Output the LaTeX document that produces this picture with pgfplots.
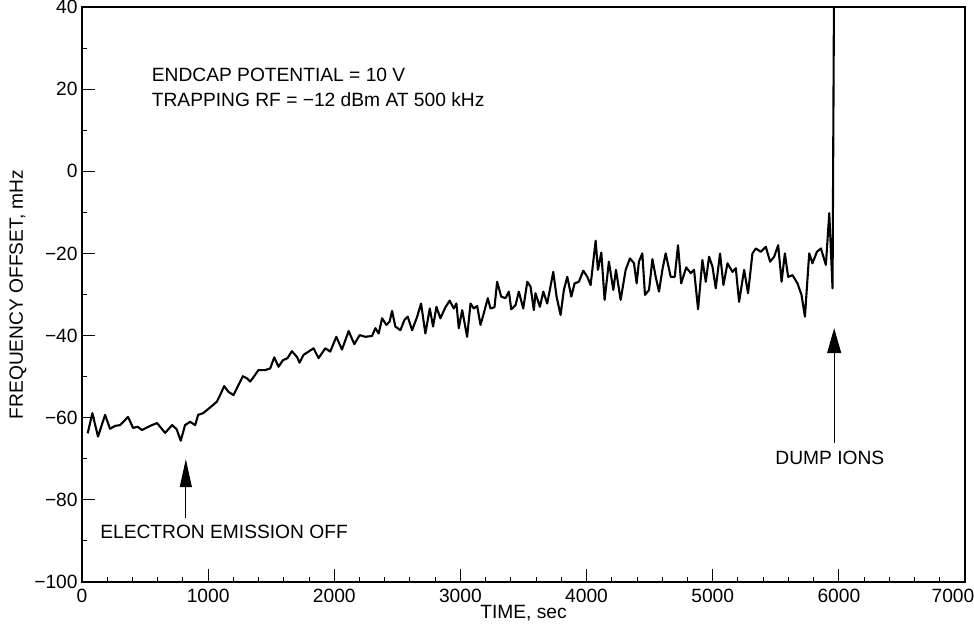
\documentclass[border=0pt]{standalone}
\usepackage{pgfplots}
\pgfplotsset{compat=1.18}
\usepackage{fontspec}
\setmainfont{Liberation Sans}
\usetikzlibrary{arrows.meta}
\begin{document}
\fontsize{9.6}{11.5}\selectfont
\begin{tikzpicture}
\path[use as bounding box] (-41pt,-26.5pt) rectangle (446pt,291pt);
\begin{axis}[
  scale only axis, width=441.5pt, height=287.5pt,
  xmin=0, xmax=7000, ymin=-100, ymax=40,
  xtick={0,1000,...,7000},
  xticklabels={0,1000,2000,3000,4000,5000,6000,\hspace*{-12pt}7000},
  ytick={-100,-80,...,40},
  yticklabels={−100,−80,−60,−40,−20,0,20,40},
  minor x tick num=4, minor y tick num=1,
  xtick pos=bottom, ytick pos=left,
  tick align=inside,
  major tick length=6.5pt, minor tick length=2.5pt,
  axis line style={line width=0.75pt},
  tick style={line width=0.5pt, black},
  yticklabel style={inner sep=2pt},
  xlabel={TIME, sec}, ylabel={FREQUENCY OFFSET, mHz},
  xlabel style={at={(axis description cs:0.5,-0.0539)}, anchor=center},
  ylabel style={at={(axis description cs:-0.0725,0.5)}, anchor=center},
  clip=true,
]
\addplot[black, line width=1.05pt, line join=round] coordinates {
(45,-63.8) (82,-58.9) (127,-64.6) (183,-59.3) (222,-62.7) (262,-62.0) (302,-61.8)
(365,-59.8) (405,-62.5) (440,-62.2) (476,-63.0) (540,-62.0) (595,-61.3) (659,-63.7)
(714,-61.8) (750,-62.8) (783,-65.6) (817,-61.8) (857,-61.0) (897,-61.8) (921,-59.3)
(960,-58.9) (1016,-57.5) (1069,-56.1) (1095,-54.5) (1127,-52.3) (1161,-53.7) (1201,-54.5)
(1241,-52.0) (1275,-49.9) (1307,-50.4) (1333,-51.2) (1365,-49.9) (1399,-48.4) (1452,-48.4)
(1492,-48.0) (1524,-45.3) (1558,-47.6) (1593,-46.0) (1629,-45.5) (1664,-43.8) (1704,-45.2)
(1725,-46.6) (1756,-44.7) (1796,-43.9) (1836,-43.1) (1875,-45.5) (1929,-43.1) (1968,-43.9)
(2016,-40.3) (2061,-43.4) (2114,-38.9) (2159,-42.1) (2201,-39.9) (2246,-40.3) (2299,-40.1)
(2326,-38.2) (2352,-39.5) (2379,-35.8) (2413,-37.4) (2439,-36.6) (2458,-34.0) (2484,-37.8)
(2524,-38.7) (2556,-36.2) (2582,-35.4) (2617,-38.7) (2657,-35.4) (2688,-32.2) (2722,-39.5)
(2757,-33.4) (2783,-37.8) (2810,-33.0) (2841,-35.8) (2881,-33.1) (2915,-31.5) (2947,-33.4)
(2968,-32.2) (2987,-38.2) (3014,-33.8) (3053,-40.3) (3080,-32.2) (3106,-33.4) (3133,-32.8)
(3159,-37.4) (3185,-34.6) (3217,-30.9) (3238,-33.4) (3270,-33.1) (3291,-26.9) (3323,-30.5)
(3357,-30.9) (3384,-29.3) (3403,-33.6) (3437,-32.6) (3463,-29.3) (3498,-33.4) (3530,-26.9)
(3556,-28.1) (3582,-33.8) (3595,-29.7) (3630,-33.0) (3657,-29.3) (3688,-32.2) (3736,-24.5)
(3762,-30.5) (3794,-35.0) (3820,-28.9) (3847,-25.7) (3879,-30.5) (3905,-27.3) (3939,-26.9)
(3974,-24.2) (4006,-25.7) (4032,-27.7) (4072,-16.9) (4090,-24.0) (4117,-19.8) (4143,-31.3)
(4177,-22.0) (4212,-28.9) (4233,-24.0) (4270,-31.3) (4310,-24.0) (4344,-21.2) (4376,-22.4)
(4397,-27.3) (4415,-22.0) (4442,-20.0) (4463,-30.1) (4495,-28.9) (4522,-21.4) (4548,-25.7)
(4574,-29.3) (4601,-24.0) (4627,-20.0) (4667,-25.7) (4699,-25.7) (4725,-18.0) (4750,-27.3)
(4790,-23.4) (4826,-24.8) (4852,-24.0) (4884,-33.6) (4918,-21.6) (4945,-26.9) (4971,-20.8)
(4998,-23.2) (5024,-28.5) (5058,-20.0) (5085,-27.7) (5117,-22.4) (5157,-24.5) (5183,-23.6)
(5209,-31.8) (5249,-24.0) (5280,-29.7) (5315,-20.0) (5342,-18.8) (5381,-19.6) (5421,-18.4)
(5455,-22.0) (5487,-20.8) (5519,-18.0) (5546,-26.9) (5572,-20.0) (5598,-25.7) (5633,-25.3)
(5672,-27.3) (5704,-30.1) (5731,-35.4) (5765,-20.0) (5791,-22.4) (5826,-19.6) (5858,-18.8)
(5897,-22.8) (5924,-10.2) (5950,-28.5) (5961,40)
};
\node[anchor=west] at (axis cs:500,23.4) {ENDCAP POTENTIAL = 10 V};
\node[anchor=west] at (axis cs:500,17.4) {TRAPPING RF = −12 dBm AT 500 kHz};
\draw[line width=0.5pt, -{Triangle[width=6pt,length=14pt]}] (axis cs:823,-84.4) -- (axis cs:823,-70.1);
\node[anchor=center] at (axis cs:1126,-87.8) {ELECTRON EMISSION OFF};
\draw[line width=0.5pt, -{Triangle[width=7pt,length=12.5pt]}] (axis cs:5963,-66.2) -- (axis cs:5963,-38.2);
\node[anchor=center] at (axis cs:5929,-69.8) {DUMP IONS};
\end{axis}
\end{tikzpicture}
\end{document}
